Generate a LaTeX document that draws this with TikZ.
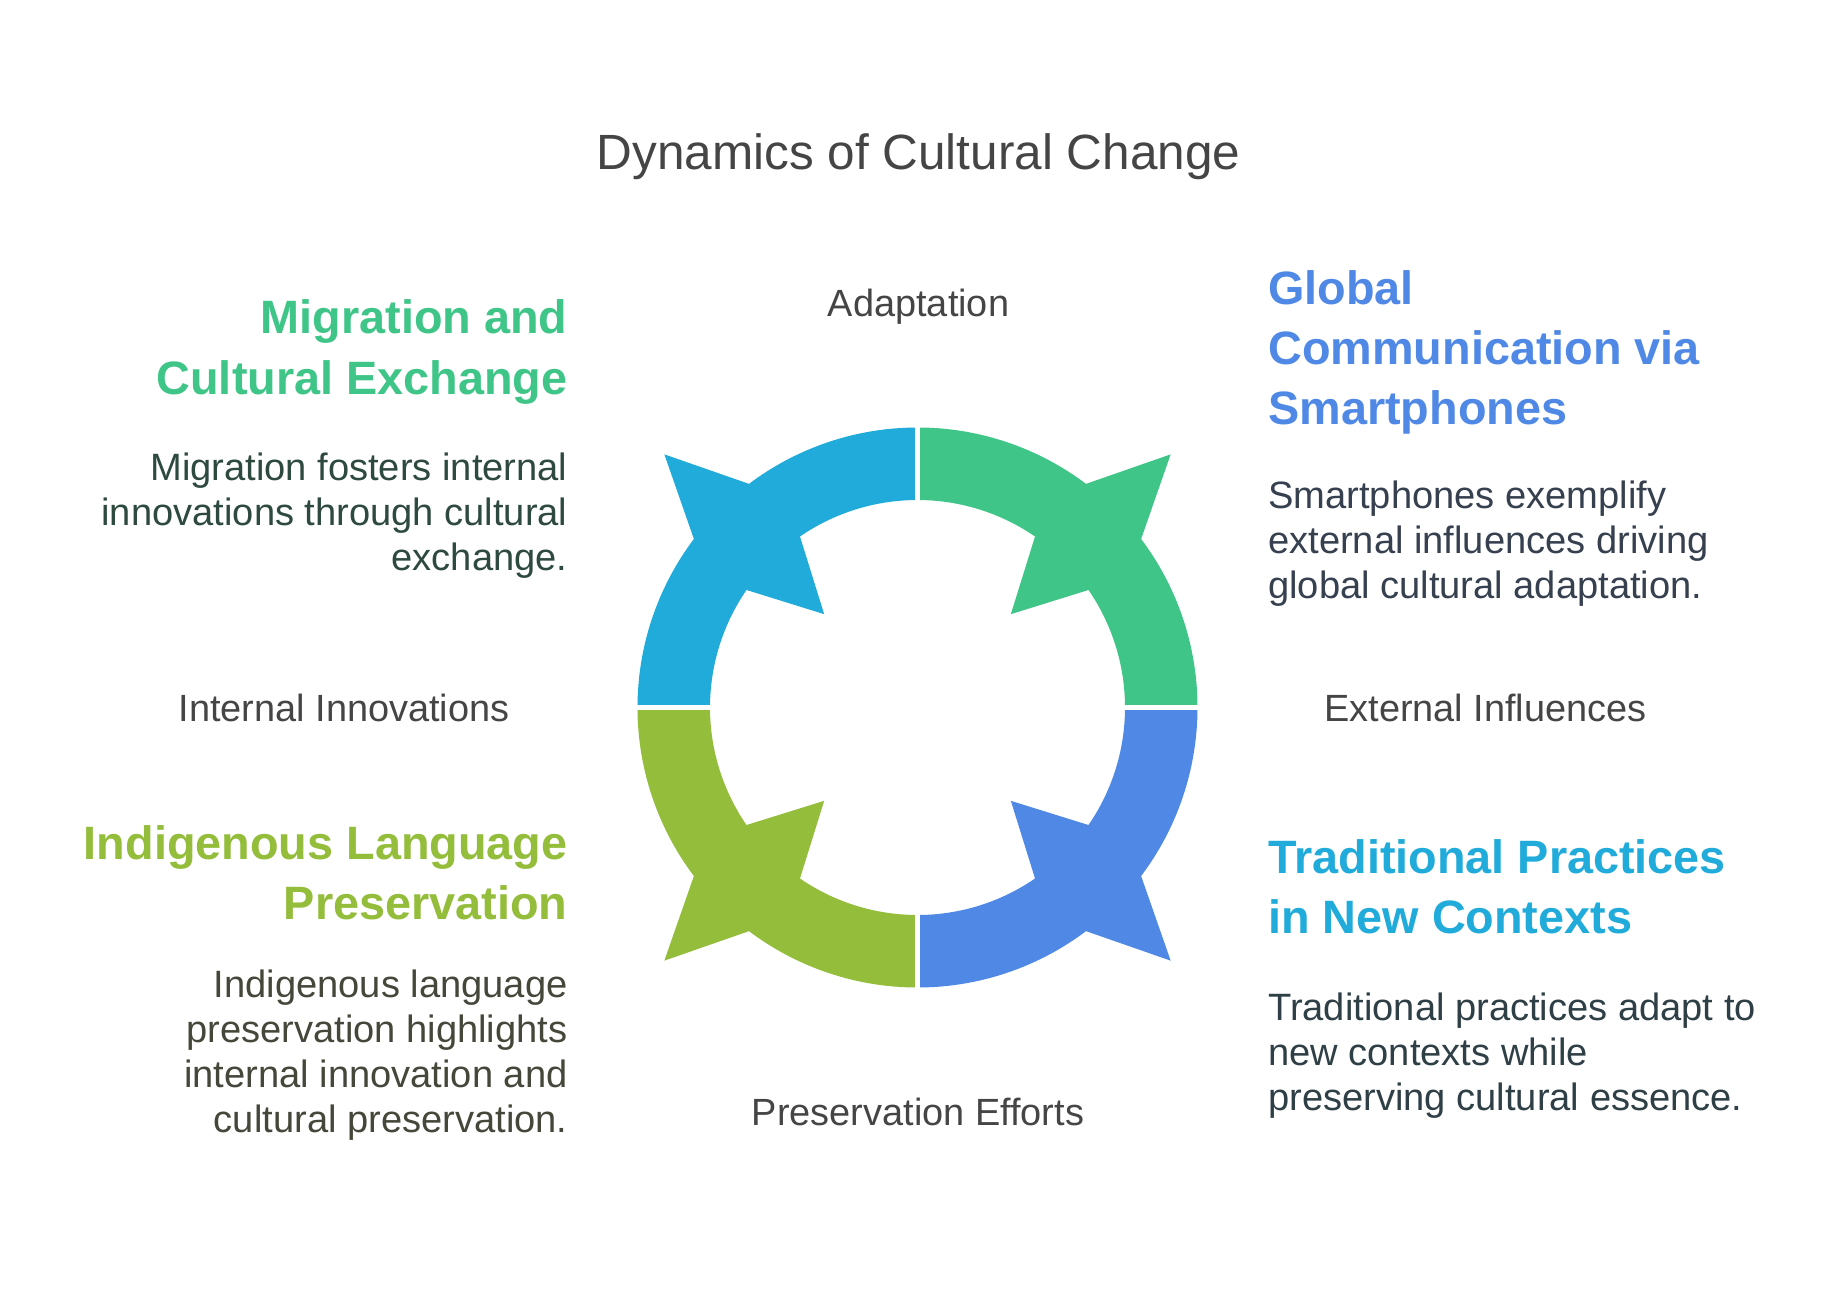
\documentclass[tikz,border=0pt]{standalone}
\usepackage{fontspec}
\setmainfont{Liberation Sans}
\definecolor{cgreen}{HTML}{3EC587}
\definecolor{cblue}{HTML}{4F89E5}
\definecolor{colive}{HTML}{93BD3B}
\definecolor{ccyan}{HTML}{20ABDA}
\definecolor{titlegray}{HTML}{454545}
\definecolor{dgreen}{HTML}{2E4A3F}
\definecolor{dblue}{HTML}{36404F}
\definecolor{dolive}{HTML}{45473A}
\definecolor{dslate}{HTML}{2F3F46}
\begin{document}
\begin{tikzpicture}[x=1pt,y=-1pt,
  titletext/.style={font=\fontsize{49.5}{58}\selectfont, text=titlegray, inner sep=0pt},
  lbl/.style={font=\fontsize{37.9}{45}\selectfont, text=titlegray, inner sep=0pt},
  head/.style={font=\fontsize{46.8}{60}\selectfont\bfseries, inner sep=0pt},
  desc/.style={font=\fontsize{38.1}{45}\selectfont, inner sep=0pt},
  gapline/.style={draw=white, line width=5pt}
]
\fill[white] (0,0) rectangle (1836,1295);
\path[use as bounding box] (0,0) rectangle (1836,1295);

% ring
\begin{scope}[shift={(917.5,707.5)}, yscale=-1]
  \foreach \a/\c in {0/cgreen,90/ccyan,180/colive,270/cblue}{
    \pgfmathsetmacro{\m}{\a+45}
    \pgfmathsetmacro{\oa}{\m-8}
    \pgfmathsetmacro{\ob}{\m+8}
    \pgfmathsetmacro{\ia}{\m+10.5}
    \pgfmathsetmacro{\ib}{\m-10.5}
    \pgfmathsetmacro{\e}{\a+90}
    \fill[\c] (\a:207.5) -- (\a:280)
      arc[start angle=\a, end angle=\oa, radius=280]
      -- (\m:358) -- (\ob:280)
      arc[start angle=\ob, end angle=\e, radius=280]
      -- (\e:207.5)
      arc[start angle=\e, end angle=\ia, radius=207.5]
      -- (\m:132) -- (\ib:207.5)
      arc[start angle=\ib, end angle=\a, radius=207.5]
      -- cycle;
  }
  \coordinate (ringE) at (300,0);
  \coordinate (ringW) at (-300,0);
  \coordinate (ringN) at (0,300);
  \coordinate (ringS) at (0,-300);
  \draw[gapline] (ringW) -- (ringE);
  \draw[gapline] (ringS) -- (ringN);
\end{scope}

% title and labels
\node[titletext] (title) at (918.5,156.5) {Dynamics of Cultural Change};
\node[lbl] (adapt) at (918.5,306.3) {Adaptation};
\node[lbl] (intern) at (344,707.5) {Internal Innovations};
\node[lbl] (extern) at (1485.4,707.5) {External Influences};
\node[lbl] (preserve) at (918,1112.3) {Preservation Efforts};

% headings
\node[head, text=cgreen, align=right, anchor=east] (h1) at (567.7,352) {Migration and\\Cultural Exchange};
\node[desc, text=dgreen, align=right, anchor=east] (d1) at (567.7,515.5) {Migration fosters internal\\innovations through cultural\\exchange.};

\node[head, text=cblue, align=left, anchor=west] (h2) at (1268,352.5) {Global\\Communication via\\Smartphones};
\node[desc, text=dblue, align=left, anchor=west] (d2) at (1268,544) {Smartphones exemplify\\external influences driving\\global cultural adaptation.};

\node[head, text=colive, align=right, anchor=east] (h3) at (567.7,872.3) {Indigenous Language\\Preservation};
\node[desc, text=dolive, align=right, anchor=east] (d3) at (567.7,1055.5) {Indigenous language\\preservation highlights\\internal innovation and\\cultural preservation.};

\node[head, text=ccyan, align=left, anchor=west] (h4) at (1268,887) {Traditional Practices\\in New Contexts};
\node[desc, text=dslate, align=left, anchor=west] (d4) at (1268,1056) {Traditional practices adapt to\\new contexts while\\preserving cultural essence.};
\end{tikzpicture}
\end{document}
